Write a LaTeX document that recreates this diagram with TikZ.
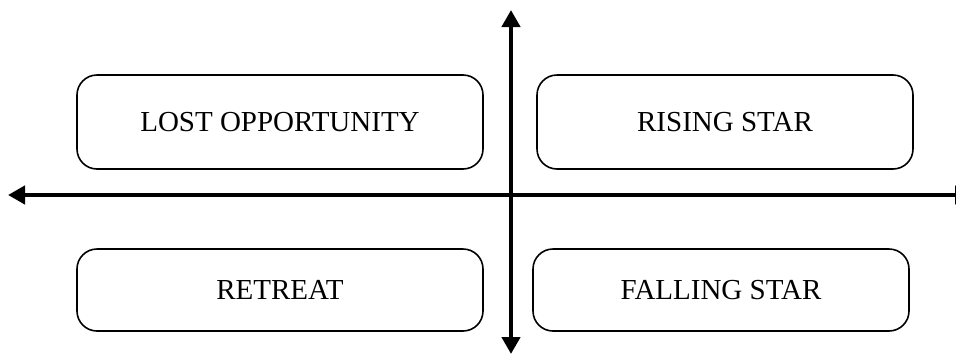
\documentclass[tikz,border=0pt]{standalone}
\usepackage{fontspec}
\setmainfont{Liberation Serif}
\usetikzlibrary{arrows.meta}
\begin{document}
\begin{tikzpicture}[x=1pt,y=-1pt,
  quad/.style={draw=black,line width=1.6pt,rounded corners=20pt,font=\fontsize{29}{34}\selectfont},
  axis/.style={line width=4.5pt,-{Triangle[width=18pt,length=17pt]}}]
\useasboundingbox (0,0) rectangle (956,354);
\clip (0,0) rectangle (956,354);
\draw[quad] (77,75) rectangle (483,169) node[midway] (lost) {LOST OPPORTUNITY};
\draw[quad] (537,75) rectangle (913,169) node[midway] (rising) {RISING STAR};
\draw[quad] (77,249) rectangle (483,331) node[midway] (retreat) {RETREAT};
\draw[quad] (533,249) rectangle (909,331) node[midway] (falling) {FALLING STAR};
\coordinate (c) at (511,195);
\coordinate (top) at (511,10);
\coordinate (bot) at (511,354);
\coordinate (left) at (8,195);
\coordinate (right) at (972,195);
\draw[axis] (c) -- (top);
\draw[axis] (c) -- (bot);
\draw[axis] (c) -- (left);
\draw[axis] (c) -- (right);
\end{tikzpicture}
\end{document}
